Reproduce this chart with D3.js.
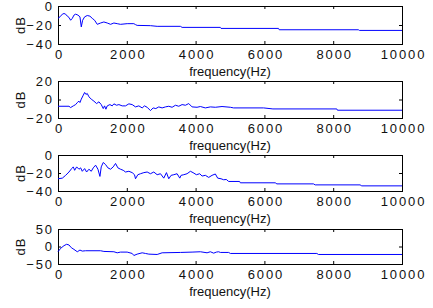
<!DOCTYPE html>
<head>
  <meta charset="utf-8">
  <title>spectra</title>
  <script src="https://cdn.jsdelivr.net/npm/d3@7"></script>
  <style>
    body { margin: 0; background: #fff; }
    text { font-family: Arial, "Liberation Sans", sans-serif; fill: #111; }
  </style>
</head>
<body>
<script>
// x ticks shared by all panels
var xTicks = [0, 2000, 4000, 6000, 8000, 10000];

// panel 1
var freq1 = [0,58,126,174,222,271,319,367,416,464,513,580,638,677,716,774,851,928,996,1064,1141,1238,1334,1431,1528,1625,1721,1818,2011,2205,2253,2301,2688,2882,3559,3607,4719,4738,6411,6431,8732,8761,10000];
var db1 = [-13,-11.4,-8.6,-7.9,-8.6,-10.7,-12,-15,-13,-9.6,-8.6,-9.6,-11.4,-22,-15,-11.4,-10,-10.7,-13,-15,-19.3,-17.9,-16.8,-17.9,-19.3,-17.9,-18.6,-19.3,-18.6,-18.6,-19.6,-20.4,-20.7,-21.4,-21.4,-22.5,-22.5,-23.6,-23.6,-25,-25,-25.7,-25.7];
var yTicks1 = [-40, -20, 0];

// panel 2
var freq2 = [0,319,367,445,513,561,609,638,677,735,774,812,851,899,967,1044,1122,1190,1257,1315,1354,1393,1431,1509,1576,1625,1702,1770,1866,1963,2060,2157,2253,2350,2447,2514,2592,2688,2766,2843,2930,3027,3124,3220,3317,3414,3511,3607,3704,3801,3897,4042,4139,4284,4429,4574,4768,5010,5106,5977,6247,8104,8124,10000];
var db2 = [-7.3,-7.3,-8.7,-6.9,-5.5,-3.3,-1.8,-3.3,0.4,4.7,7.6,5.5,6.5,2.9,0.4,-1.8,-4.4,-2.5,-5.5,-9.8,-6.9,-10.5,-6.9,-5.5,-6.9,-4.7,-6.2,-5.5,-6.9,-6.9,-4.7,-5.5,-8,-6.9,-9.1,-6.9,-8.4,-12,-9.1,-9.8,-8,-9.1,-8,-7.3,-8.4,-6.2,-7.3,-5.5,-6.2,-4.4,-8,-8.4,-7.6,-9.1,-8,-8.4,-7.6,-8.4,-9.1,-9.1,-10.2,-10.2,-11.6,-11.6];
var yTicks2 = [-20, 0, 20];

// panel 3
var freq3 = [0,126,222,319,397,445,484,542,609,658,706,774,832,899,967,1025,1093,1161,1219,1257,1315,1383,1451,1528,1605,1673,1741,1818,1896,1963,2060,2157,2224,2253,2321,2398,2495,2592,2688,2785,2882,2979,3075,3153,3220,3288,3366,3462,3540,3578,3656,3752,3849,3926,4023,4120,4188,4284,4381,4478,4574,4642,4739,4816,4893,4961,5280,5300,6315,6363,7427,7476,8781,8830,10000];
var db3 = [-26.4,-25.7,-22.6,-18.9,-15.1,-13.2,-17,-13.2,-15.8,-14.3,-18.1,-15.1,-18.9,-15.8,-18.1,-14.3,-11.3,-15.8,-23.8,-13.2,-8.3,-10.6,-14.3,-15.8,-13.2,-9.4,-14.3,-15.8,-17,-18.9,-18.1,-19.6,-21.9,-26.4,-21.9,-20.8,-19.6,-18.9,-20.8,-18.9,-21.9,-20.8,-25.7,-19.6,-26.4,-22.6,-21.9,-20.8,-25.7,-22.6,-21.9,-20.8,-18.1,-19.6,-21.9,-20.8,-23.4,-22.6,-24.9,-22.6,-21.1,-25.7,-26.4,-27.5,-27.2,-29.4,-29.4,-30.9,-30.9,-32.1,-32.1,-33.2,-33.2,-34.3,-34.3];
var yTicks3 = [-40, -20, 0];

// panel 4
var freq4 = [0,77,174,251,319,387,464,561,638,706,803,1238,1334,1625,1721,1818,2011,2157,2205,2301,2447,2543,2640,2882,3027,3559,3897,4139,4333,4429,4526,4603,4671,4719,4961,5010,7524,7572,10000];
var db4 = [-15,-5.3,2.4,6.3,4.4,-3.4,-8.3,-15,-10.2,-13.1,-12.1,-12.1,-14.1,-15,-18,-16,-16,-19.9,-25.7,-21.8,-18,-19.9,-21.8,-22.8,-18,-17,-16,-15,-18,-15,-19,-16,-15,-17,-17,-19.9,-19.9,-22.8,-22.8];
var yTicks4 = [-50, 0, 50];

var panels = [
  {f: freq1, v: db1, ticks: yTicks1, top: 6, bottom: 44},
  {f: freq2, v: db2, ticks: yTicks2, top: 81, bottom: 118},
  {f: freq3, v: db3, ticks: yTicks3, top: 155, bottom: 191},
  {f: freq4, v: db4, ticks: yTicks4, top: 229, bottom: 264}
];

var left = 58, right = 402;

var svg = d3.select("body").append("svg")
    .attr("width", 433)
    .attr("height", 308);

var x = d3.scaleLinear().domain([0, 10000]).range([left, right]);

panels.forEach(function(p) {
    var yDom = [p.ticks[0], p.ticks[p.ticks.length - 1]];
    var y = d3.scaleLinear().domain(yDom).range([p.bottom, p.top]);
    var g = svg.append("g");

    // inward ticks on all four sides
    var tk = 3;
    var xb = g.append("g").attr("transform", "translate(0," + p.bottom + ")")
        .call(d3.axisBottom(x).tickValues(xTicks).tickSize(-tk).tickPadding(6).tickFormat(d3.format("d")))
        .call(s => s.select(".domain").remove());
    g.append("g").attr("transform", "translate(0," + p.top + ")")
        .call(d3.axisTop(x).tickValues(xTicks).tickSize(-tk).tickFormat(""))
        .call(s => s.select(".domain").remove());
    var yl = g.append("g").attr("transform", "translate(" + left + ",0)")
        .call(d3.axisLeft(y).tickValues(p.ticks).tickSize(-tk).tickPadding(4))
        .call(s => s.select(".domain").remove());
    g.append("g").attr("transform", "translate(" + right + ",0)")
        .call(d3.axisRight(y).tickValues(p.ticks).tickSize(-tk).tickFormat(""))
        .call(s => s.select(".domain").remove());

    g.selectAll(".tick text")
        .style("font-size", "13px")
        .style("font-family", "Arial, 'Liberation Sans', sans-serif")
        .style("letter-spacing", "1.9px")
        .attr("fill", "#111");
    // compensate trailing letter spacing on centred labels
    xb.selectAll(".tick text").attr("dx", "1px");
    g.selectAll(".tick line").attr("stroke", "#000");

    g.append("rect")
        .attr("x", left + 0.5).attr("y", p.top + 0.5)
        .attr("width", right - left).attr("height", p.bottom - p.top)
        .attr("fill", "none").attr("stroke", "#000").attr("stroke-width", 1);

    var line = d3.line()
        .x(function(d, i) { return x(p.f[i]); })
        .y(function(d) { return y(d); });

    g.append("path")
        .datum(p.v)
        .attr("d", line)
        .attr("fill", "none")
        .attr("stroke", "#0000ff")
        .attr("stroke-width", 1);

    g.append("text")
        .attr("transform", "translate(25," + ((p.top + p.bottom) / 2) + ") rotate(-90)")
        .attr("text-anchor", "middle")
        .style("font-size", "13px")
        .style("letter-spacing", "1px")
        .text("dB");

    g.append("text")
        .attr("x", (left + right) / 2)
        .attr("y", p.bottom + 32)
        .attr("text-anchor", "middle")
        .style("font-size", "13px")
        .text("frequency(Hz)");
});
</script>
</body>
